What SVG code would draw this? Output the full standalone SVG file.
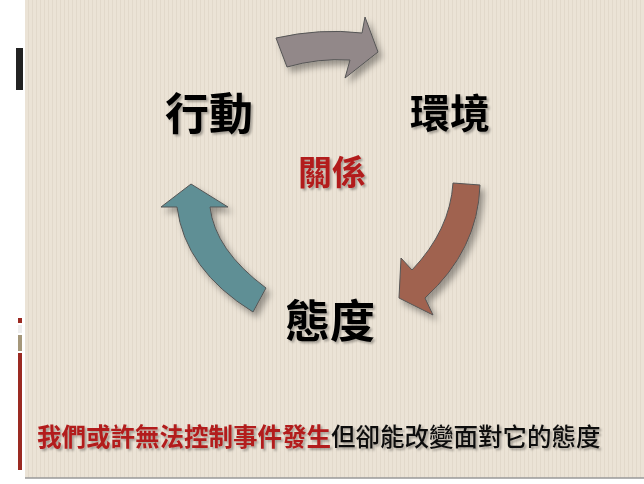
<svg xmlns="http://www.w3.org/2000/svg" width="644" height="484" viewBox="0 0 644 484">
<defs>
<pattern id="stripe" width="4" height="4" patternUnits="userSpaceOnUse"><rect width="4" height="4" fill="#ebe3d6"/><rect width="1" height="4" fill="#e2d9cb"/></pattern>
<filter id="sh" x="-30%" y="-30%" width="160%" height="160%"><feDropShadow dx="4" dy="5" stdDeviation="3" flood-color="#000" flood-opacity="0.35"/></filter>
<filter id="ts"><feDropShadow dx="2" dy="2" stdDeviation="1.2" flood-color="#000" flood-opacity="0.3"/></filter>
</defs>
<style>
.t{font-family:"Noto Sans CJK TC","Noto Sans CJK SC",sans-serif;font-weight:700;filter:url(#ts)}
.a{stroke:#555;stroke-width:1;filter:url(#sh)}
</style>
<rect width="644" height="484" fill="#fff"/>
<rect x="25" y="0" width="619" height="478" fill="url(#stripe)"/>
<rect x="0" y="478" width="644" height="6" fill="#fff"/>
<line x1="25" y1="478" x2="644" y2="478" stroke="#999" stroke-width="1.5"/>
<rect x="16" y="48" width="7" height="42" fill="#222"/>
<rect x="18" y="318" width="4" height="5" fill="#9b2a22"/>
<rect x="18" y="325" width="4" height="8" fill="#eee"/>
<rect x="18" y="335" width="4" height="16" fill="#a5977a"/>
<rect x="18" y="353" width="4" height="117" fill="#9b2a22"/>
<g id="connectors">
<path class="a" fill="#928889" d="M276,38 Q320,28 362,33 L365,17 L378,52 L345,78 L350,60 Q318,58 287,67 Z"/>
<path class="a" fill="#a0624f" d="M453,183 L480,185 Q478,250 425,298 L433,315 L399,298 L401,258 L412,270 Q450,230 453,183 Z"/>
<path class="a" fill="#5f8f95" d="M266,288 Q215,250 210,207 L228,207 L191,184 L161,207 L177,207 Q185,270 253,312 Z"/>
</g>
<g id="n1"><text class="t" x="165" y="130" font-size="44">行動</text></g>
<g id="n2"><text class="t" x="410" y="128" font-size="40">環境</text></g>
<g id="n3"><text class="t" x="298" y="185" font-size="34" fill="#b21d1d">關係</text></g>
<g id="n4"><text class="t" x="285" y="338" font-size="45">態度</text></g>
<g id="n5"><text class="t" x="37" y="446" font-size="24.5" style="font-weight:500"><tspan fill="#b21d1d" font-weight="700">我們或許無法控制事件發生</tspan><tspan fill="#111">但卻能改變面對它的態度</tspan></text></g>
</svg>
